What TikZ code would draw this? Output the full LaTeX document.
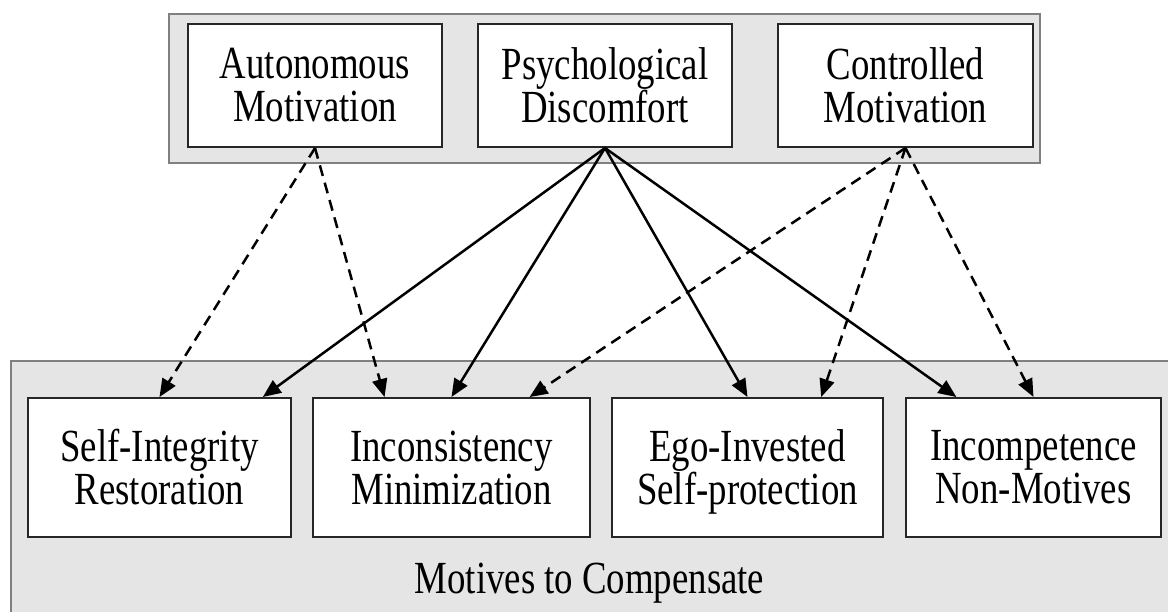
\documentclass[tikz,border=0pt]{standalone}
\usepackage{fontspec}
\setmainfont{Liberation Serif}[FakeStretch=0.8]
\usetikzlibrary{arrows.meta,calc}
\definecolor{groupfill}{HTML}{E5E5E5}
\definecolor{groupline}{HTML}{808080}
\definecolor{boxline}{HTML}{262626}
\tikzset{
  group/.style={draw=groupline, fill=groupfill, line width=2.8pt},
  mbox/.style={draw=boxline, fill=white, line width=2pt, inner sep=0pt,
    align=center, font=\fontsize{46}{43}\selectfont},
  toprow/.style={mbox, minimum height=123pt},
  botrow/.style={mbox, minimum height=139pt},
  arr/.style={draw=black, line width=2.5pt, -{Triangle[length=18pt,width=15pt]}},
  darr/.style={arr, dash pattern=on 11pt off 7pt},
  lbl/.style={font=\fontsize{46}{43}\selectfont, inner sep=0pt, anchor=base}
}
\begin{document}
\begin{tikzpicture}[x=1pt,y=-1pt]
\clip (0,0) rectangle (1168,611);
\fill[white] (0,0) rectangle (1168,611);
% groups
\draw[group] (169,14) rectangle (1040,163);
\draw[group] (11,361) rectangle (1200,650);
% top boxes
\node[toprow, minimum width=254pt] (AM) at (315,85.5) {Autonomous\\Motivation};
\node[toprow, minimum width=254pt] (PD) at (605,85.5) {Psychological\\Discomfort};
\node[toprow, minimum width=255pt] (CM) at (905.5,85.5) {Controlled\\Motivation};
% bottom boxes
\node[botrow, minimum width=263pt] (SI) at (159.5,467.5) {Self-Integrity\\Restoration};
\node[botrow, minimum width=277pt] (IM) at (451.5,467.5) {Inconsistency\\Minimization};
\node[botrow, minimum width=271pt] (EI) at (747.5,467.5) {Ego-Invested\\\raisebox{0pt}[\height][0pt]{Self-protection}};
\node[botrow, minimum width=255pt] (IN) at (1033.5,467.5) {Incompetence\\Non-Motives};
\node[lbl] (MC) at (589.5,593) {Motives to Compensate};
% solid arrows from Psychological Discomfort
\draw[arr] (PD.south) -- ($(SI.north west)!0.89!(SI.north east)$);
\draw[arr] (PD.south) -- (IM.north);
\draw[arr] (PD.south) -- (EI.north);
\draw[arr] (PD.south) -- ($(IN.north west)!0.2!(IN.north east)$);
% dashed arrows
\draw[darr] (AM.south) -- (SI.north);
\draw[darr] (AM.south) -- ($(IM.north west)!0.26!(IM.north east)$);
\draw[darr] (CM.south) -- ($(IM.north west)!0.78!(IM.north east)$);
\draw[darr] (CM.south) -- ($(EI.north west)!0.77!(EI.north east)$);
\draw[darr] (CM.south) -- (IN.north);
\end{tikzpicture}
\end{document}
